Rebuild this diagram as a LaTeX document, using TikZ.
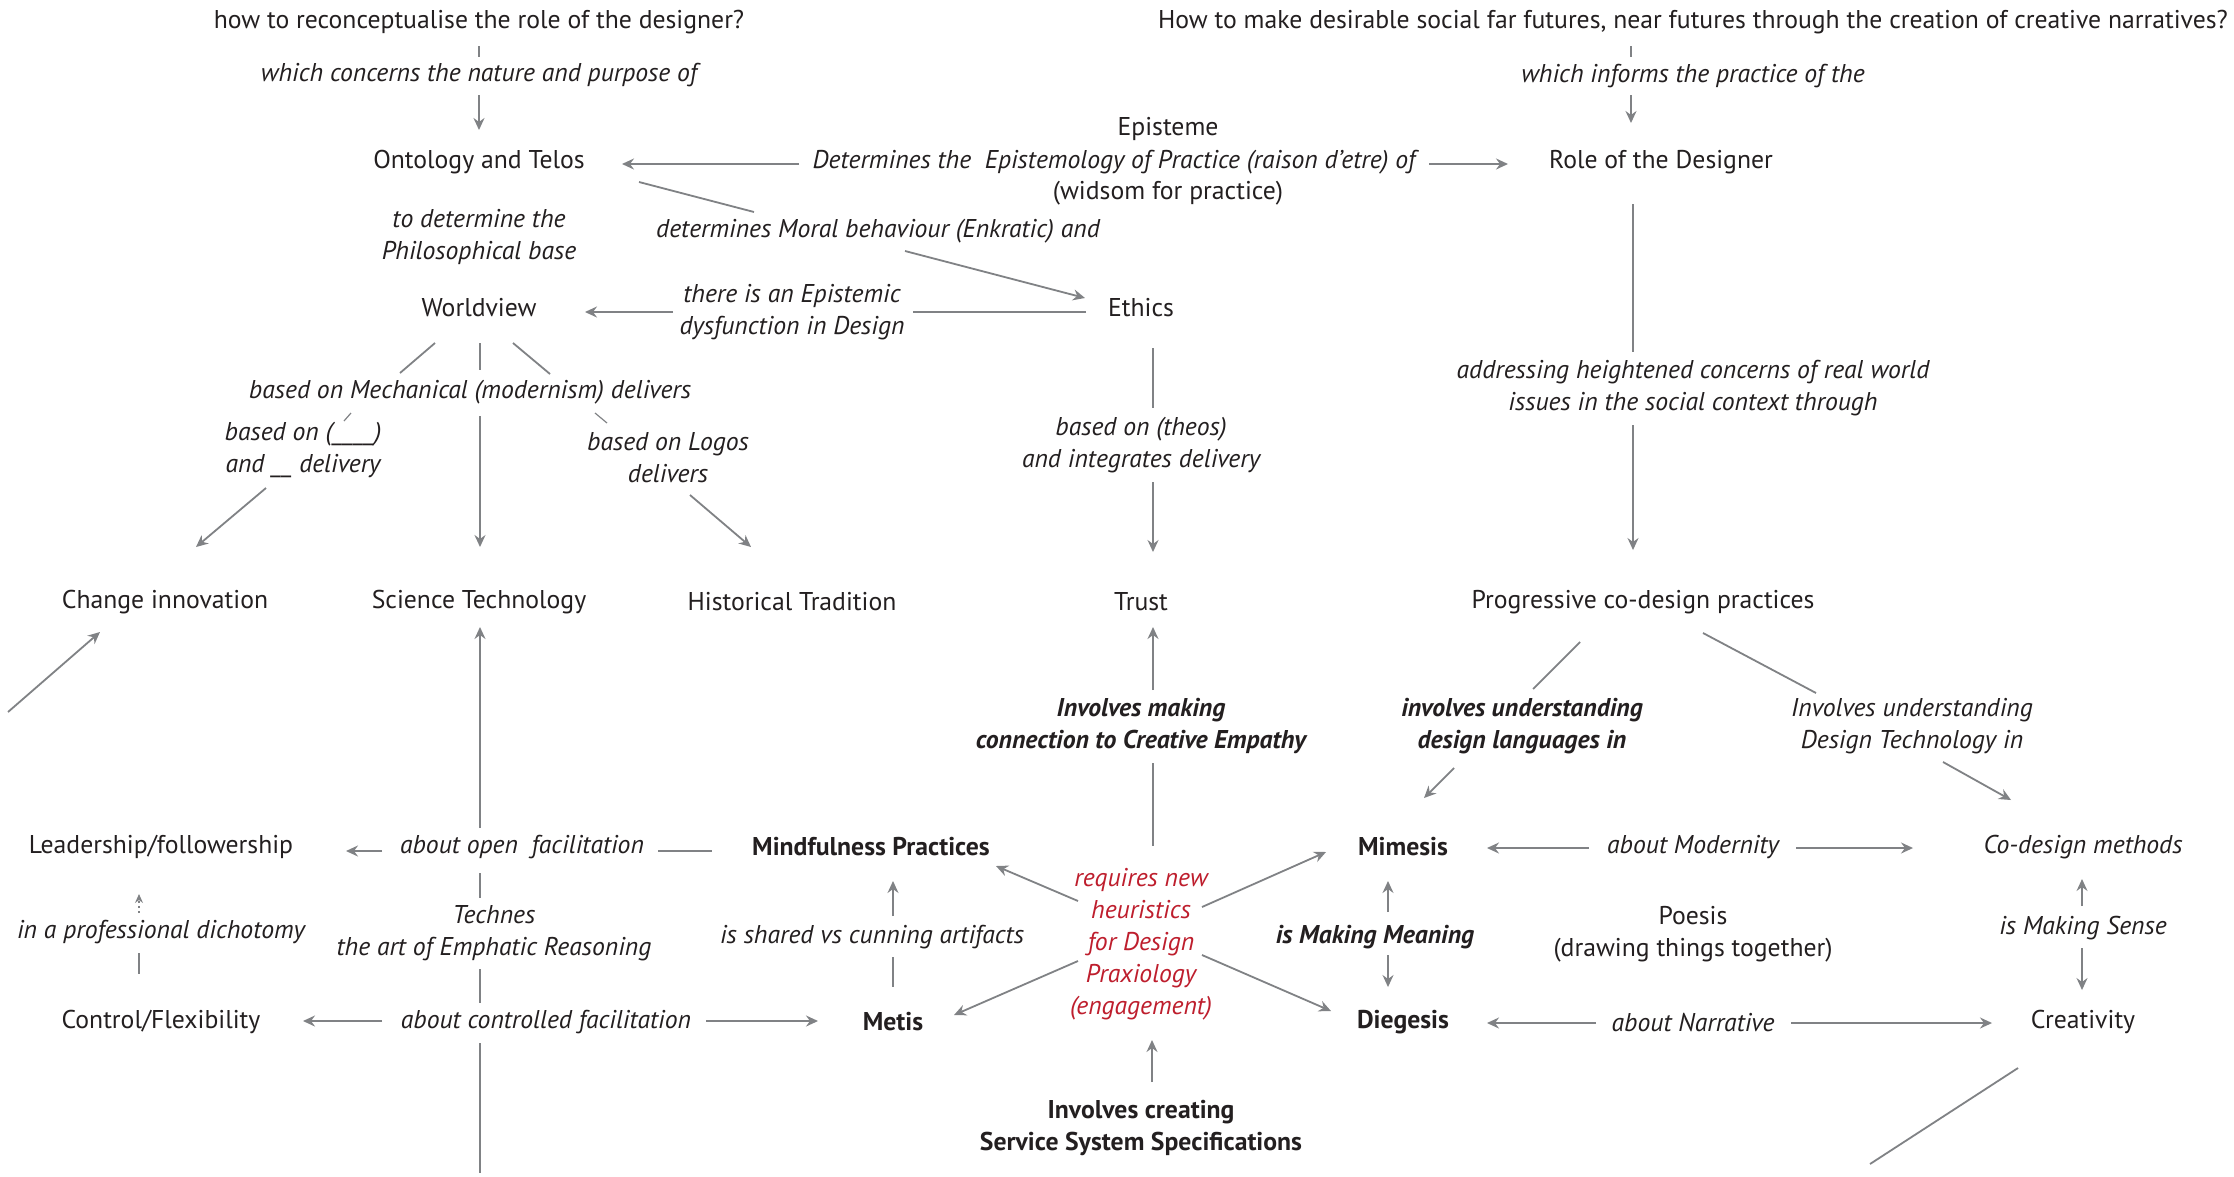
\documentclass[tikz,border=0pt]{standalone}
\usepackage{fontspec}
\setmainfont{PT Sans}
\usetikzlibrary{arrows.meta}
\definecolor{ink}{HTML}{231F20}
\definecolor{lnc}{HTML}{808285}
\definecolor{rdc}{HTML}{BE1E2D}
\begin{document}
\begin{tikzpicture}[x=1pt,y=-1pt,
 lab/.style={font=\fontsize{25.7}{32}\selectfont, text=ink, align=center, inner sep=0pt, yshift=-2pt},
 itl/.style={lab, font=\fontsize{25.7}{32}\selectfont\itshape},
 bfl/.style={lab, font=\fontsize{25.7}{32}\selectfont\bfseries},
 bil/.style={lab, font=\fontsize{25.7}{32}\selectfont\bfseries\itshape},
 redl/.style={itl, text=rdc},
 ln/.style={draw=lnc, line width=1.8pt},
 thin ln/.style={draw=lnc, line width=1.3pt},
 arr/.style={ln, -{Stealth[length=12pt,width=11pt,inset=4pt]}},
 thin arr/.style={thin ln, -{Stealth[length=12pt,width=11pt,inset=4pt]}},
]
\useasboundingbox (0,0) rectangle (2234,1176);
\fill[white] (0,0) rectangle (2234,1176);

% ---------- nodes ----------
\node[lab] (t1) at (479,20) {how to reconceptualise the role of the designer?};
\node[lab] (t2) at (1693,20) {How to make desirable social far futures, near futures through the creation of creative narratives?};
\node[itl] (wc) at (479,73) {which concerns the nature and purpose of};
\node[itl] (wi) at (1693,74) {which informs the practice of the};
\node[lab] (onto) at (479,160) {Ontology and Telos};
\node[lab] (epi) at (1168,127) {Episteme};
\node[itl] (det) at (1114,160) {Determines the\ \ Epistemology of Practice (raison d’etre) of};
\node[lab] (wis) at (1168,191) {(widsom for practice)};
\node[lab] (role) at (1661,160) {Role of the Designer};
\node[itl] (moral) at (878,229) {determines Moral behaviour (Enkratic) and};
\node[lab] (ethics) at (1141,306) {Ethics};
\node[itl] (phil) at (479,235) {to determine the\\Philosophical base};
\node[lab] (wv) at (479,306) {Worldview};
\node[itl] (dysf) at (792,310) {there is an Epistemic\\dysfunction in Design};
\node[itl] (mech) at (470,390) {based on Mechanical (modernism) delivers};
\node[itl] (bon) at (303,448) {based on (\_\_\_\_)\\and \_\_ delivery};
\node[itl] (logos) at (668,456) {based on Logos\\delivers};
\node[itl] (theos) at (1141,443) {based on (theos)\\and integrates delivery};
\node[itl] (addr) at (1693,386) {addressing heightened concerns of real world\\issues in the social context through};
\node[lab] (chg) at (165,600) {Change innovation};
\node[lab] (sci) at (479,600) {Science Technology};
\node[lab] (hist) at (792,600) {Historical Tradition};
\node[lab] (trust) at (1141,600) {Trust};
\node[lab] (prog) at (1643,600) {Progressive co-design practices};
\node[bil] (emp) at (1141,724) {Involves making\\connection to Creative Empathy};
\node[bil] (ilang) at (1522,724) {involves understanding\\design languages in};
\node[itl] (itech) at (1912,724) {Involves understanding\\Design Technology in};
\node[lab] (lead) at (161,845) {Leadership/followership};
\node[itl] (open) at (522,845) {about open\ \ facilitation};
\node[bfl] (mind) at (871,845) {Mindfulness Practices};
\node[redl] (req) at (1141,942) {requires new\\heuristics\\for Design\\Praxiology\\(engagement)};
\node[bfl] (mim) at (1403,845) {Mimesis};
\node[itl] (modern) at (1693,845) {about Modernity};
\node[itl] (codm) at (2083,845) {Co-design methods};
\node[itl] (prof) at (161,930) {in a professional dichotomy};
\node[itl] (techn) at (494,931) {Technes\\the art of Emphatic Reasoning};
\node[itl] (shared) at (872,935) {is shared vs cunning artifacts};
\node[bil] (mean) at (1375,935) {is Making Meaning};
\node[lab] (poesis) at (1693,932) {Poesis\\(drawing things together)};
\node[itl] (sense) at (2083,926) {is Making Sense};
\node[lab] (ctrl) at (161,1020) {Control/Flexibility};
\node[itl] (contr) at (546,1020) {about controlled facilitation};
\node[bfl] (metis) at (893,1020) {Metis};
\node[bfl] (dieg) at (1403,1020) {Diegesis};
\node[itl] (narr) at (1693,1020) {about Narrative};
\node[lab] (creat) at (2083,1020) {Creativity};
\node[bfl] (svc) at (1141,1126) {Involves creating\\Service System Specifications};

% ---------- connector end points ----------
\coordinate (a1) at (479,46); \coordinate (a2) at (479,57);
\coordinate (a3) at (479,95); \coordinate (a4) at (479,130);
\coordinate (b1) at (1631,46); \coordinate (b2) at (1631,57);
\coordinate (b3) at (1631,95); \coordinate (b4) at (1631,123);
\coordinate (d1) at (799,164); \coordinate (d2) at (622,164);
\coordinate (d3) at (1429,164); \coordinate (d4) at (1508,164);
\coordinate (m1) at (639,182); \coordinate (m2) at (754,212);
\coordinate (m3) at (905,251); \coordinate (m4) at (1085,298);
\coordinate (e1) at (1086,312); \coordinate (e2) at (913,312);
\coordinate (e3) at (673,312); \coordinate (e4) at (585,312);
\coordinate (w1) at (435,343); \coordinate (w2) at (400,373);
\coordinate (w3) at (480,343); \coordinate (w4) at (480,370);
\coordinate (w5) at (513,343); \coordinate (w6) at (550,374);
\coordinate (k1) at (351,413); \coordinate (k2) at (344,421);
\coordinate (k3) at (266,488); \coordinate (k4) at (196,547);
\coordinate (k5) at (480,416); \coordinate (k6) at (480,547);
\coordinate (k7) at (595,413); \coordinate (k8) at (607,423);
\coordinate (k9) at (690,495); \coordinate (k10) at (751,547);
\coordinate (t1a) at (1153,348); \coordinate (t1b) at (1153,408);
\coordinate (t1c) at (1153,482); \coordinate (t1d) at (1153,552);
\coordinate (r1) at (1633,204); \coordinate (r2) at (1633,352);
\coordinate (r3) at (1633,425); \coordinate (r4) at (1633,550);
\coordinate (c1) at (8,712); \coordinate (c2) at (100,632);
\coordinate (u1) at (1153,690); \coordinate (u2) at (1153,627);
\coordinate (u3) at (1153,763); \coordinate (u4) at (1153,846);
\coordinate (s1) at (1078,901); \coordinate (s2) at (996,866);
\coordinate (s3) at (1202,907); \coordinate (s4) at (1326,852);
\coordinate (s5) at (1078,961); \coordinate (s6) at (954,1015);
\coordinate (s7) at (1202,955); \coordinate (s8) at (1331,1011);
\coordinate (s9) at (1152,1082); \coordinate (s10) at (1152,1040);
\coordinate (p1) at (1580,642); \coordinate (p2) at (1533,689);
\coordinate (p3) at (1454,768); \coordinate (p4) at (1424,798);
\coordinate (p5) at (1703,633); \coordinate (p6) at (1816,693);
\coordinate (p7) at (1943,762); \coordinate (p8) at (2011,800);
\coordinate (o1) at (382,851); \coordinate (o2) at (346,851);
\coordinate (o3) at (658,851); \coordinate (o4) at (712,851);
\coordinate (v1) at (480,828); \coordinate (v2) at (480,627);
\coordinate (v3) at (480,873); \coordinate (v4) at (480,898);
\coordinate (v5) at (480,969); \coordinate (v6) at (480,1003);
\coordinate (v7) at (480,1043); \coordinate (v8) at (480,1173);
\coordinate (f1) at (139,913); \coordinate (f2) at (139,894);
\coordinate (f3) at (139,953); \coordinate (f4) at (139,974);
\coordinate (g1) at (382,1021); \coordinate (g2) at (303,1021);
\coordinate (g3) at (706,1021); \coordinate (g4) at (818,1021);
\coordinate (h1) at (893,916); \coordinate (h2) at (893,881);
\coordinate (h3) at (893,957); \coordinate (h4) at (893,987);
\coordinate (i1) at (1388,912); \coordinate (i2) at (1388,881);
\coordinate (i3) at (1388,955); \coordinate (i4) at (1388,987);
\coordinate (j1) at (1589,848); \coordinate (j2) at (1487,848);
\coordinate (j3) at (1796,848); \coordinate (j4) at (1913,848);
\coordinate (n1) at (1596,1023); \coordinate (n2) at (1487,1023);
\coordinate (n3) at (1791,1023); \coordinate (n4) at (1992,1023);
\coordinate (q1) at (2082,906); \coordinate (q2) at (2082,879);
\coordinate (q3) at (2082,948); \coordinate (q4) at (2082,990);
\coordinate (z1) at (2018,1068); \coordinate (z2) at (1870,1164);

% ---------- connectors ----------
\draw[ln] (a1) -- (a2); \draw[arr] (a3) -- (a4);
\draw[ln] (b1) -- (b2); \draw[arr] (b3) -- (b4);
\draw[arr] (d1) -- (d2); \draw[arr] (d3) -- (d4);
\draw[ln] (m1) -- (m2); \draw[arr] (m3) -- (m4);
\draw[ln] (e1) -- (e2); \draw[arr] (e3) -- (e4);
\draw[ln] (w1) -- (w2); \draw[ln] (w3) -- (w4); \draw[ln] (w5) -- (w6);
\draw[ln, line width=1.2pt] (k1) -- (k2); \draw[arr] (k3) -- (k4);
\draw[arr] (k5) -- (k6);
\draw[ln, line width=1.2pt] (k7) -- (k8); \draw[arr] (k9) -- (k10);
\draw[thin ln] (t1a) -- (t1b); \draw[thin arr] (t1c) -- (t1d);
\draw[thin ln] (r1) -- (r2); \draw[thin arr] (r3) -- (r4);
\draw[arr] (c1) -- (c2);
\draw[arr] (u1) -- (u2); \draw[ln] (u3) -- (u4);
\draw[arr] (s1) -- (s2); \draw[arr] (s3) -- (s4);
\draw[arr] (s5) -- (s6); \draw[arr] (s7) -- (s8);
\draw[arr] (s9) -- (s10);
\draw[ln] (p1) -- (p2); \draw[arr] (p3) -- (p4);
\draw[ln] (p5) -- (p6); \draw[arr] (p7) -- (p8);
\draw[arr] (o1) -- (o2); \draw[ln] (o3) -- (o4);
\draw[arr] (v1) -- (v2); \draw[ln] (v3) -- (v4); \draw[ln] (v5) -- (v6); \draw[ln] (v7) -- (v8);
\draw[thin ln, dash pattern=on 2pt off 3pt, -{Stealth[length=9pt,width=8pt,inset=3pt]}] (f1) -- (f2);
\draw[thin ln] (f3) -- (f4);
\draw[arr] (g1) -- (g2); \draw[arr] (g3) -- (g4);
\draw[thin arr] (h1) -- (h2); \draw[thin ln] (h3) -- (h4);
\draw[thin arr] (i1) -- (i2); \draw[thin arr] (i3) -- (i4);
\draw[arr] (j1) -- (j2); \draw[arr] (j3) -- (j4);
\draw[arr] (n1) -- (n2); \draw[arr] (n3) -- (n4);
\draw[thin arr] (q1) -- (q2); \draw[thin arr] (q3) -- (q4);
\draw[ln] (z1) -- (z2);
\end{tikzpicture}
\end{document}
